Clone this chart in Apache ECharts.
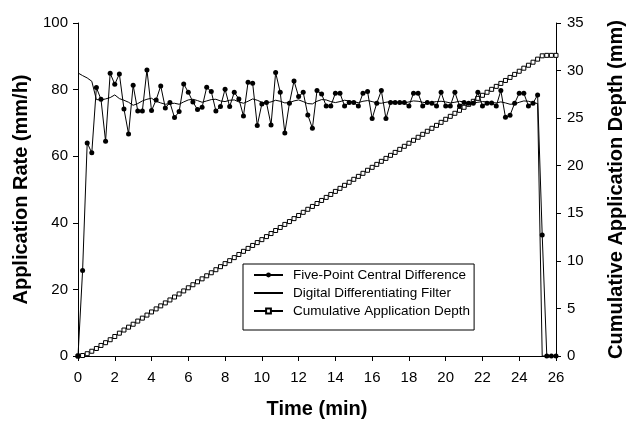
<!DOCTYPE html>
<html><head><meta charset="utf-8">
<script src="https://cdn.jsdelivr.net/npm/echarts@6/dist/echarts.min.js"></script>
<style>html,body{margin:0;padding:0;background:#fff;overflow:hidden}#c{width:628px;height:423px}</style>
</head><body><div id="c"></div>
<script>
const timeMin = [0,0.25,0.5,0.75,1,1.25,1.5,1.75,2,2.25,2.5,2.75,3,3.25,3.5,3.75,4,4.25,4.5,4.75,5,5.25,5.5,5.75,6,6.25,6.5,6.75,7,7.25,7.5,7.75,8,8.25,8.5,8.75,9,9.25,9.5,9.75,10,10.25,10.5,10.75,11,11.25,11.5,11.75,12,12.25,12.5,12.75,13,13.25,13.5,13.75,14,14.25,14.5,14.75,15,15.25,15.5,15.75,16,16.25,16.5,16.75,17,17.25,17.5,17.75,18,18.25,18.5,18.75,19,19.25,19.5,19.75,20,20.25,20.5,20.75,21,21.25,21.5,21.75,22,22.25,22.5,22.75,23,23.25,23.5,23.75,24,24.25,24.5,24.75,25,25.25,25.5,25.75,26];

const fivePoint = [0,25.7,64,61,80.6,77.1,64.5,84.9,81.6,84.7,74.2,66.7,81.3,73.6,73.6,85.9,73.7,76.9,81.1,74.5,76.1,71.6,73.4,81.7,79.2,76.3,74.0,74.7,80.7,79.4,73.6,74.9,80.1,74.9,79.2,77.2,72.1,82.2,81.9,69.2,75.7,76.1,69.4,85.1,79.2,67,75.9,82.6,77.9,79.2,72.4,68.4,79.7,78.7,75.1,75.1,78.9,78.9,75.1,76.1,76.1,75.1,78.9,79.4,71.3,75.9,79.7,71.3,76.1,76.1,76.1,76.1,75.1,78.9,78.9,75.1,76.1,75.9,75.1,79.2,75.1,75.1,79.2,75.1,76.1,75.9,75.9,79.2,75.1,75.9,76,75.1,79.7,71.7,72.3,75.9,78.9,78.9,75.1,75.9,78.4,36.3,0,0,0];

const digitalFilter = [85,84.2,83.5,82.5,77,76.9,77.2,77.6,78.4,77.3,76.8,76.2,75.3,75.8,76.6,77.1,77.4,76.5,76.0,75.6,75.8,75.9,75.6,76.3,76.9,77.1,76.7,76.2,76.6,77.0,77.1,76.6,76.4,76.8,76.9,76.3,75.9,76.5,77.2,76.8,76.2,76.0,76.3,76.8,76.5,76.0,76.1,76.6,76.9,76.4,75.8,75.7,76.5,77.0,76.9,76.4,76.1,76.4,76.8,76.6,76.3,76.1,76.5,76.7,76.4,76.0,75.9,76.2,76.4,76.3,76.1,76.0,76.3,76.6,76.5,76.2,76.0,76.2,76.4,76.5,76.3,76.0,76.2,76.5,76.3,76.0,75.9,76.2,76.4,76.3,76.1,76.0,76.3,76.0,75.6,75.7,76.2,76.6,76.5,76.1,75.8,0,0,0,0];

const cumulativeDepth = [0,0.05,0.24,0.5,0.79,1.11,1.4,1.71,2.05,2.4,2.73,3.03,3.34,3.67,3.98,4.3,4.63,4.95,5.27,5.58,5.89,6.2,6.52,6.84,7.17,7.49,7.8,8.11,8.43,8.75,9.07,9.39,9.71,10.02,10.34,10.67,11.0,11.31,11.62,11.92,12.23,12.55,12.87,13.19,13.51,13.83,14.13,14.44,14.77,15.1,15.42,15.72,16.03,16.35,16.67,16.98,17.3,17.62,17.94,18.26,18.57,18.88,19.2,19.52,19.83,20.14,20.46,20.77,21.09,21.4,21.72,22.04,22.36,22.67,22.99,23.3,23.62,23.93,24.24,24.56,24.88,25.19,25.51,25.82,26.14,26.45,26.77,27.08,27.4,27.72,28.03,28.34,28.65,28.96,29.28,29.6,29.93,30.25,30.56,30.88,31.2,31.55,31.6,31.6,31.6];

const seriesNames = ['Five-Point Central Difference','Digital Differentiating Filter','Cumulative Application Depth'];

function pairs(ys){ return timeMin.map((t,i)=>[t, ys[i]]); }

const FONT = '"Liberation Sans", Arial, Helvetica, sans-serif';
const axisCommon = {
  axisLine:{show:true,lineStyle:{color:'#000',width:1}},
  axisTick:{show:true,inside:false,length:5,lineStyle:{color:'#000'}},
  splitLine:{show:false},
  axisLabel:{color:'#000',fontSize:15,fontFamily:FONT},
  nameTextStyle:{color:'#000',fontSize:20,fontWeight:'bold',fontFamily:FONT}
};

const chart = echarts.init(document.getElementById('c'), null, {renderer:'canvas'});
chart.setOption({
  animation:false,
  backgroundColor:'#fff',
  grid:{left:78,right:72,top:23,bottom:67,containLabel:false,outerBoundsMode:'none'},
  xAxis:Object.assign({}, axisCommon, {
    type:'value', min:0, max:26, interval:2,
    name:'Time (min)', nameLocation:'middle', nameGap:43,
    axisLabel:Object.assign({}, axisCommon.axisLabel, {margin:14})
  }),
  yAxis:[
    Object.assign({}, axisCommon, {
      type:'value', min:0, max:100, interval:20, position:'left',
      name:'Application Rate (mm/h)', nameLocation:'middle', nameGap:47,
      axisLabel:Object.assign({}, axisCommon.axisLabel, {margin:10})
    }),
    Object.assign({}, axisCommon, {
      type:'value', min:0, max:35, interval:5, position:'right',
      name:'Cumulative Application Depth (mm)', nameLocation:'middle', nameGap:50,
      axisLabel:Object.assign({}, axisCommon.axisLabel, {margin:11})
    })
  ],
  legend:{
    orient:'vertical', left:243, top:264,
    backgroundColor:'#fff', borderColor:'#000', borderWidth:1,
    padding:[4,4,12,10], itemGap:4, itemWidth:29, itemHeight:6,
    textStyle:{color:'#000',fontSize:13.5,fontFamily:FONT,padding:[0,0,0,5]},
    data:[
      {name:seriesNames[0]},
      {name:seriesNames[1], itemStyle:{opacity:0}},
      {name:seriesNames[2]}
    ]
  },
  series:[
    {
      name:seriesNames[0], type:'line', data:pairs(fivePoint),
      symbol:'circle', symbolSize:5, showAllSymbol:true,
      lineStyle:{color:'#000',width:1}, itemStyle:{color:'#000'}, z:3
    },
    {
      name:seriesNames[1], type:'line', data:pairs(digitalFilter),
      symbol:'none', lineStyle:{color:'#000',width:1}, itemStyle:{color:'#000'}, z:2
    },
    {
      name:seriesNames[2], type:'line', yAxisIndex:1, data:pairs(cumulativeDepth),
      symbol:'rect', symbolSize:4, showAllSymbol:true,
      lineStyle:{color:'#000',width:1},
      itemStyle:{color:'#fff',borderColor:'#000',borderWidth:1}, z:2
    }
  ]
});
</script>
</body></html>
